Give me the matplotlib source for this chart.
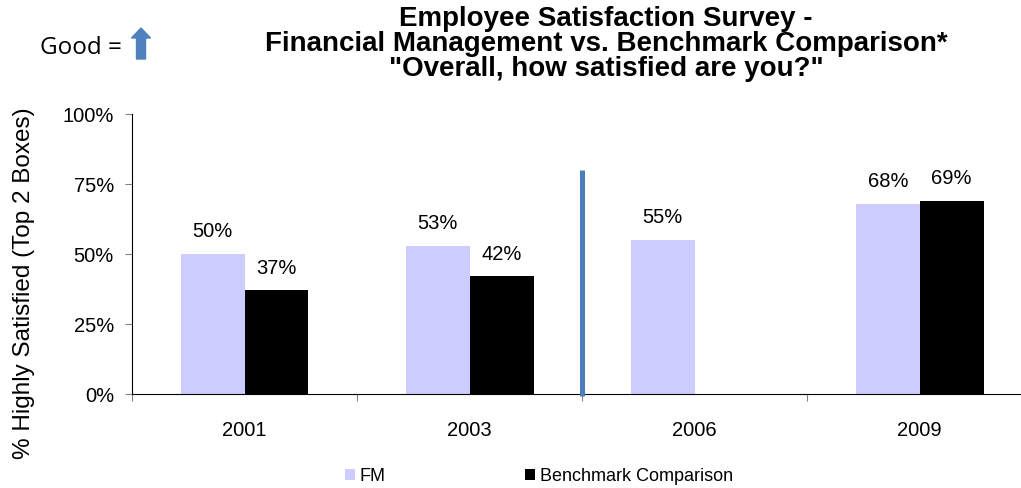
import matplotlib
matplotlib.use("Agg")
import matplotlib.pyplot as plt
from matplotlib.patches import FancyArrow
import numpy as np

years = ["2001", "2003", "2006", "2009"]
fm_values = [50, 53, 55, 68]
benchmark_values = [37, 42, None, 69]
y_ticks = [0, 25, 50, 75, 100]
divider_top = 80
title_lines = [
    "Employee Satisfaction Survey -",
    "Financial Management vs. Benchmark Comparison*",
    "\"Overall, how satisfied are you?\"",
]

plt.rcParams["font.family"] = ["Liberation Sans", "DejaVu Sans"]

fig = plt.figure(figsize=(10.21, 4.89), dpi=100)
W, H = 1021, 489
ax = fig.add_axes([132 / W, 1 - 395 / H, 889 / W, 280 / H])

x = np.arange(len(years))
bw = 0.284
fm_color = "#CCCCFF"
bm_color = "#000000"

ax.bar(x - bw / 2, fm_values, width=bw, color=fm_color, label="FM", zorder=2)
bm_x = [xi + bw / 2 for xi, v in zip(x, benchmark_values) if v is not None]
bm_v = [v for v in benchmark_values if v is not None]
ax.bar(bm_x, bm_v, width=bw, color=bm_color, label="Benchmark Comparison", zorder=2)

for xi, v in zip(x, fm_values):
    ax.annotate(f"{v}%", (xi - bw / 2, v), xytext=(0, 10), textcoords="offset points",
                ha="center", va="bottom", fontsize=14.5)
for xi, v in zip(bm_x, bm_v):
    ax.annotate(f"{v}%", (xi, v), xytext=(0, 10), textcoords="offset points",
                ha="center", va="bottom", fontsize=14.5)

# divider between the older and newer survey periods
ax.plot([1.5, 1.5], [-0.6, divider_top], color="#4A7EBB", lw=3.6, solid_capstyle="butt",
        zorder=3, clip_on=False)

ax.set_xlim(-0.5, 3.45)
ax.set_ylim(0, 100)
ax.set_yticks(y_ticks)
ax.set_yticklabels([f"{t}%" for t in y_ticks], fontsize=14.5)
ax.tick_params(axis="y", direction="out", length=5, color="#808080", pad=8)

ax.set_xticks([-0.5, 0.5, 1.5, 2.5])
ax.set_xticklabels([])
ax.set_xticks(x, minor=True)
ax.set_xticklabels(years, minor=True, fontsize=14.5)
ax.tick_params(axis="x", which="major", direction="out", length=5, color="#808080")
ax.tick_params(axis="x", which="minor", length=0, pad=18.5)

for s in ["top", "right"]:
    ax.spines[s].set_visible(False)
ax.spines["left"].set_color("black")
ax.spines["bottom"].set_color("black")

fig.text(24 / W, 1 - 283 / H, "% Highly Satisfied (Top 2 Boxes)", rotation=90,
         ha="center", va="center", fontsize=17.5)

for yc, line in zip([19, 44, 69], title_lines):
    fig.text(606 / W, 1 - yc / H, line, ha="center", va="center",
             fontsize=20, fontweight="bold")

fig.text(40 / W, 1 - 48 / H, "Good =", ha="left", va="center", fontsize=17.5,
         family=["Open Sans", "DejaVu Sans"])
fig.patches.append(FancyArrow(141 / W, 1 - 60 / H, 0, 21 / H, width=9 / W,
                              head_width=19 / W, head_length=10 / H,
                              length_includes_head=False, color="#4F81BD",
                              transform=fig.transFigure, figure=fig))

leg = ax.legend(loc="center", ncol=2, frameon=False,
                fontsize=13, handlelength=0.55, handleheight=0.55, handletextpad=0.3,
                columnspacing=7.7, bbox_to_anchor=(539 / W, 1 - 477 / H),
                bbox_transform=fig.transFigure)

fig.savefig("out.png", dpi=100)
